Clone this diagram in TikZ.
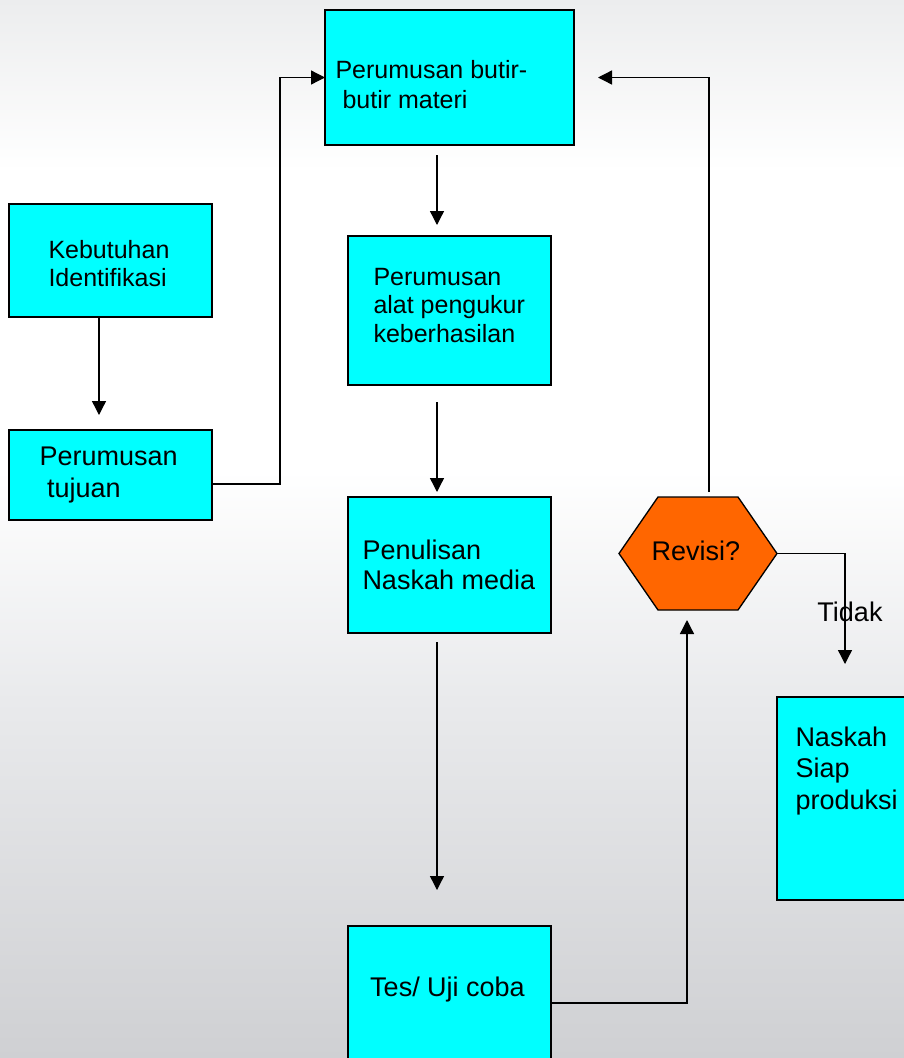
\documentclass[tikz,border=0pt]{standalone}
\usepackage{fontspec}
\setmainfont{Liberation Sans}
\usetikzlibrary{arrows.meta,calc}

\definecolor{kotakcyan}{RGB}{0,255,255}
\definecolor{revisioren}{RGB}{255,102,0}
\definecolor{bgatas}{RGB}{236,237,238}
\definecolor{bgtengah}{RGB}{233,234,236}
\definecolor{bgbawah}{RGB}{207,208,211}

\tikzset{every picture/.style={line width=0.75pt}}
\tikzset{
	kotak/.style={draw=black, fill=kotakcyan, line width=1.5pt, inner sep=0pt, outer sep=0pt},
	teks/.style={inner sep=0pt, align=left, font=\fontsize{20.25}{22.5}\selectfont},
	tekskecil/.style={teks, font=\fontsize{18.75}{22.5}\selectfont},
	panah/.style={line width=1pt, -{Triangle[length=10.5pt,width=10.5pt]}}
}

\begin{document}
\begin{tikzpicture}[x=0.75pt,y=0.75pt,yscale=-1,xscale=1]
	%set diagram size 904 x 1058
	\useasboundingbox (0,0) rectangle (904,1058);
	\clip (0,0) rectangle (904,1058);
	
	%Background
	\fill [top color=bgatas, bottom color=white] (0,0) rectangle (904,171);
	\fill [white] (0,170) rectangle (904,471);
	\fill [top color=white, bottom color=bgtengah] (0,470) rectangle (904,701);
	\fill [top color=bgtengah, bottom color=bgbawah] (0,700) rectangle (904,1058);
	
	%Shape: Rectangle
	\node [kotak, minimum width=186.75pt, minimum height=101.25pt] (materi) at (449.5,77.5) {};
	%Shape: Rectangle
	\node [kotak, minimum width=152.25pt, minimum height=111.75pt] (alat) at (449.5,310.5) {};
	%Shape: Rectangle
	\node [kotak, minimum width=152.25pt, minimum height=102pt] (penulisan) at (449.5,565) {};
	%Shape: Rectangle
	\node [kotak, minimum width=152.25pt, minimum height=115.5pt] (tes) at (449.5,1003) {};
	%Shape: Rectangle
	\node [kotak, minimum width=152.25pt, minimum height=84.75pt] (kebutuhan) at (110.5,260.5) {};
	%Shape: Rectangle
	\node [kotak, minimum width=152.25pt, minimum height=67.5pt] (tujuan) at (110.5,475) {};
	%Shape: Rectangle
	\node [kotak, minimum width=102pt, minimum height=152.25pt] (naskah) at (845,798.5) {};
	%Shape: Hexagon
	\node [inner sep=0pt, outer sep=0pt, minimum width=118.5pt, minimum height=84.75pt] (revisi) at (698,553.5) {};
	\draw [fill=revisioren, line width=1pt] (revisi.west) -- ($(revisi.north west)+(39,0)$) -- ($(revisi.north east)+(-39,0)$) -- (revisi.east) -- ($(revisi.south east)+(-39,0)$) -- ($(revisi.south west)+(39,0)$) -- cycle ;
	
	% Text Node
	\node [tekskecil, anchor=west] (materi-t) at (335,85) {Perumusan butir-\\\hspace*{0.28em}butir materi};
	% Text Node
	\node [tekskecil, font=\fontsize{18.75}{21.4}\selectfont, anchor=west] (alat-t) at (373,305.5) {Perumusan\\alat pengukur\\keberhasilan};
	% Text Node
	\node [teks, anchor=west] (penulisan-t) at (362,565) {Penulisan\\Naskah media};
	% Text Node
	\node [teks] (tes-t) at (447.5,990) {Tes/ Uji coba};
	% Text Node
	\node [tekskecil, font=\fontsize{18.75}{21}\selectfont, anchor=west] (kebutuhan-t) at (48,264) {Kebutuhan\\Identifikasi};
	% Text Node
	\node [teks, font=\fontsize{20.25}{24}\selectfont, anchor=west] (tujuan-t) at (39,475) {Perumusan\\\hspace*{0.28em}tujuan};
	% Text Node
	\node [teks, font=\fontsize{20.25}{23.6}\selectfont, anchor=west] (naskah-t) at (795,771) {Naskah\\Siap\\produksi};
	% Text Node
	\node [teks] (revisi-t) at (696,551) {Revisi?};
	% Text Node
	\node [teks] (tidak) at (850,612) {Tidak};
	
	%Straight Lines
	\draw [panah] ($(tujuan.east)+(0,9)$) -- ++(68,0) |- (materi.west) ;
	\draw [panah] ($(kebutuhan.south)+(-11.5,0)$) -- ($(tujuan.north)+(-11.5,-15)$) ;
	\draw [panah] ($(materi.south)+(-12.5,10)$) -- ($(alat.north)+(-12.5,-11)$) ;
	\draw [panah] ($(alat.south)+(-12.5,17)$) -- ($(penulisan.north)+(-12.5,-5)$) ;
	\draw [panah] ($(penulisan.south)+(-12.5,9)$) -- ($(tes.north)+(-12.5,-36)$) ;
	\draw [panah] (tes.east) -| ($(revisi.south)+(-11,10)$) ;
	\draw [panah] (revisi.east) -| ($(naskah.north)+(0,-33)$) ;
	\draw [panah] ($(revisi.north)+(11,-5)$) |- ($(materi.east)+(24,0)$) ;
	
\end{tikzpicture}
\end{document}
